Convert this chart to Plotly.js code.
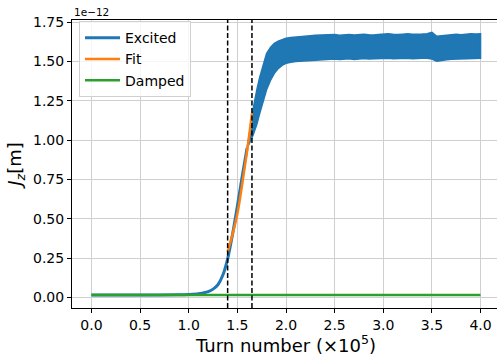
<!DOCTYPE html>
<html>
<head>
<meta charset="utf-8">
<script src="https://cdn.plot.ly/plotly-3.0.1.min.js"></script>
<style>
html, body { margin: 0; padding: 0; overflow: hidden; background: #fff; }
#chart { width: 502px; height: 356px; }
</style>
</head>
<body>
<div id="chart"></div>
<script>
// Values in units of 1e-12 m, turn numbers in units of 1e5
const excitedX = [0.0, 0.5, 0.9, 1.0, 1.1, 1.15, 1.2, 1.25, 1.3, 1.35, 1.4, 1.45, 1.5, 1.55, 1.6];
const excitedY = [0.015, 0.015, 0.016, 0.018, 0.022, 0.028, 0.036, 0.052, 0.08, 0.14, 0.245, 0.40, 0.58, 0.77, 0.95];

const bandUpperX = [1.60, 1.62, 1.64, 1.66, 1.68, 1.70, 1.73, 1.76, 1.80, 1.84, 1.88, 1.92, 1.96, 2.00,
  2.05, 2.10, 2.15, 2.20, 2.25, 2.30, 2.35, 2.40, 2.45, 2.50, 2.55, 2.60, 2.65, 2.70, 2.75, 2.80, 2.85, 2.90, 2.95, 3.00,
  3.05, 3.10, 3.15, 3.20, 3.25, 3.30, 3.35, 3.40, 3.45, 3.50, 3.55, 3.60, 3.65, 3.70, 3.75, 3.80, 3.85, 3.90, 3.95, 4.00];
const bandUpperY = [0.95, 1.02, 1.10, 1.19, 1.26, 1.32, 1.40, 1.47, 1.55, 1.59, 1.615, 1.63, 1.64, 1.648,
  1.652, 1.656, 1.660, 1.662, 1.664, 1.667, 1.668, 1.666, 1.669, 1.671, 1.667, 1.670, 1.672, 1.668, 1.671, 1.673, 1.670, 1.668, 1.672, 1.675,
  1.676, 1.673, 1.671, 1.674, 1.676, 1.673, 1.672, 1.675, 1.677, 1.686, 1.660, 1.663, 1.667, 1.671, 1.673, 1.670, 1.674, 1.676, 1.675, 1.676];
const bandLowerY = [0.95, 0.97, 1.00, 1.03, 1.06, 1.10, 1.17, 1.24, 1.32, 1.38, 1.425, 1.455, 1.475, 1.488,
  1.495, 1.500, 1.503, 1.506, 1.508, 1.510, 1.512, 1.510, 1.514, 1.516, 1.513, 1.515, 1.517, 1.513, 1.516, 1.519, 1.516, 1.514, 1.518, 1.520,
  1.521, 1.518, 1.516, 1.519, 1.521, 1.518, 1.517, 1.520, 1.521, 1.516, 1.502, 1.506, 1.511, 1.515, 1.518, 1.516, 1.519, 1.521, 1.520, 1.521];

const fitX = [1.40, 1.45, 1.50, 1.55, 1.60, 1.65];
const fitY = [0.29, 0.40, 0.53, 0.72, 0.93, 1.17];

const dampedX = [0.0, 0.5, 1.0, 1.5, 2.0, 2.5, 3.0, 3.5, 4.0];
const dampedY = [0.015, 0.015, 0.015, 0.015, 0.015, 0.015, 0.016, 0.015, 0.015];

const markerLinesX = [1.40, 1.65];

const xTickVals = [0, 0.5, 1.0, 1.5, 2.0, 2.5, 3.0, 3.5, 4.0];
const yTickVals = [0, 0.25, 0.5, 0.75, 1.0, 1.25, 1.5, 1.75];

const seriesNames = ['Excited', 'Fit', 'Damped'];
const colors = ['#1f77b4', '#ff7f0e', '#2ca02c'];

const bandX = bandUpperX.concat(bandUpperX.slice().reverse());
const bandY = bandUpperY.concat(bandLowerY.slice().reverse());

const traces = [
  { x: bandX, y: bandY, mode: 'lines', fill: 'toself', fillcolor: colors[0],
    line: { color: colors[0], width: 1.5 }, showlegend: false, hoverinfo: 'skip' },
  { x: excitedX, y: excitedY, mode: 'lines', name: seriesNames[0],
    line: { color: colors[0], width: 3, shape: 'spline', smoothing: 0.8 } },
  { x: fitX, y: fitY, mode: 'lines', name: seriesNames[1],
    line: { color: colors[1], width: 2.5, shape: 'spline' } },
  { x: dampedX, y: dampedY, mode: 'lines', name: seriesNames[2],
    line: { color: colors[2], width: 2.5 } }
];

const shapes = markerLinesX.map(v => ({
  type: 'line', xref: 'x', yref: 'paper', x0: v, x1: v, y0: 0, y1: 1,
  line: { color: '#000', width: 1.5, dash: '5px,2.5px' }, layer: 'above'
}));

const font = { family: 'DejaVu Sans, sans-serif', color: '#000' };

const layout = {
  width: 502, height: 356,
  margin: { l: 72, r: 2, t: 20, b: 48 },
  paper_bgcolor: '#fff', plot_bgcolor: '#fff',
  font: Object.assign({ size: 14 }, font),
  showlegend: true,
  legend: {
    x: 0.0164, y: 0.996, xanchor: 'left', yanchor: 'top',
    bgcolor: 'rgba(255,255,255,0.8)', bordercolor: '#d0d0d0', borderwidth: 1,
    font: Object.assign({ size: 14 }, font), tracegroupgap: 0, itemwidth: 35
  },
  xaxis: {
    range: [-0.2, 4.2], tickvals: xTickVals, tickformat: '.1f',
    showgrid: true, gridcolor: '#cfcfcf', gridwidth: 1, zeroline: false,
    showline: true, linecolor: '#000', linewidth: 1, mirror: true,
    ticks: 'outside', ticklen: 4, tickcolor: '#000', tickwidth: 1,
    tickfont: Object.assign({ size: 14 }, font),
    title: { text: 'Turn number (×10<sup>5</sup>)', font: Object.assign({ size: 18 }, font), standoff: 1 }
  },
  yaxis: {
    range: [-0.068, 1.764], tickvals: yTickVals, tickformat: '.2f',
    showgrid: true, gridcolor: '#cfcfcf', gridwidth: 1, zeroline: false,
    showline: true, linecolor: '#000', linewidth: 1, mirror: true,
    ticks: 'outside', ticklen: 4, tickcolor: '#000', tickwidth: 1,
    tickfont: Object.assign({ size: 14 }, font),
    title: { text: '<i>J</i><sub><i>z</i></sub>[m]', font: Object.assign({ size: 18 }, font), standoff: 6 }
  },
  shapes: shapes,
  annotations: [{
    text: '1e\u221212', xref: 'paper', yref: 'paper', x: 0, y: 1,
    xanchor: 'left', yanchor: 'bottom', showarrow: false, yshift: 0,
    font: Object.assign({ size: 10.5 }, font)
  }]
};

Plotly.newPlot('chart', traces, layout, { displayModeBar: false, staticPlot: true });
</script>
</body>
</html>
